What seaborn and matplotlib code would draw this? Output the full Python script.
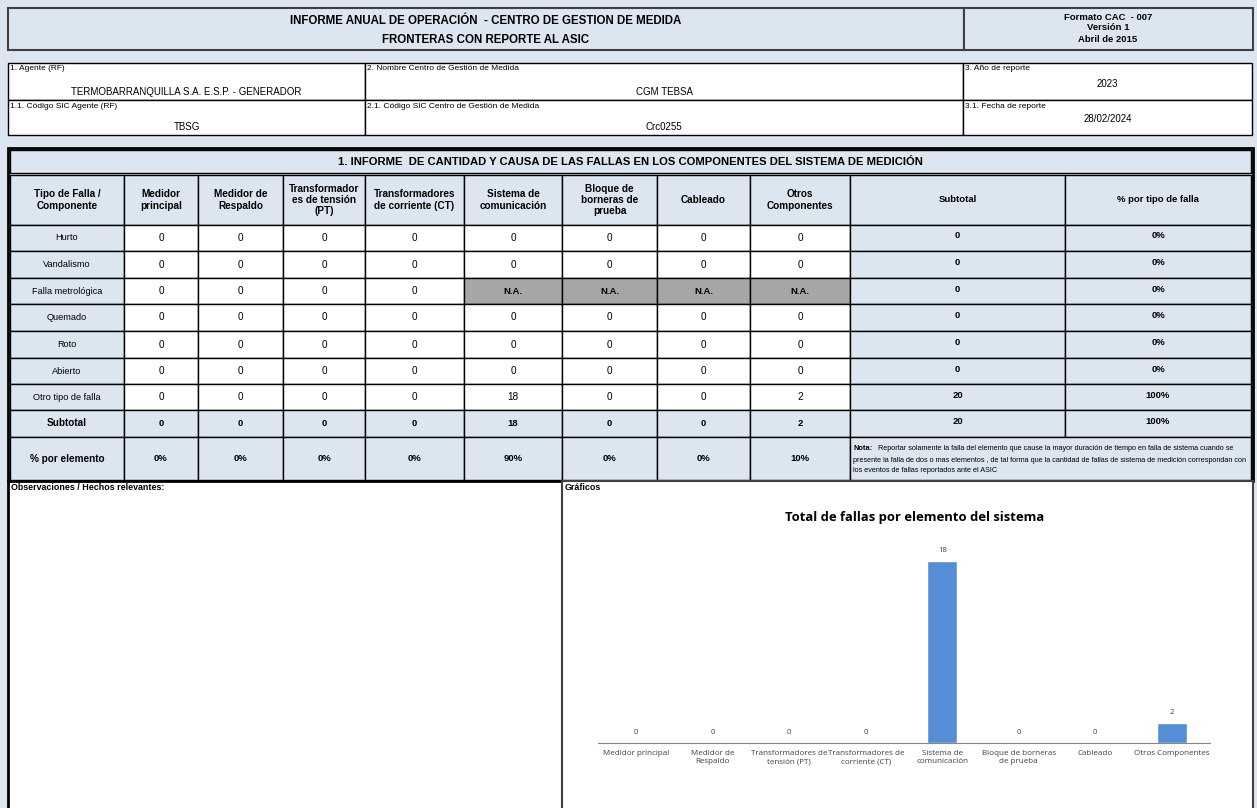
import matplotlib
matplotlib.use('Agg')
import matplotlib.pyplot as plt
import matplotlib.patches as mpatches
import seaborn as sns
import pandas as pd
import warnings

warnings.filterwarnings('ignore')

# DATA
componentes = ['Medidor\nprincipal', 'Medidor de\nRespaldo', 'Transformador\nes de tensión\n(PT)',
               'Transformadores\nde corriente (CT)', 'Sistema de\ncomunicación', 'Bloque de\nborneras de\nprueba',
               'Cableado', 'Otros\nComponentes']
chart_labels = ['Medidor principal', 'Medidor de\nRespaldo', 'Transformadores de\ntensión (PT)',
                'Transformadores de\ncorriente (CT)', 'Sistema de\ncomunicación', 'Bloque de borneras\nde prueba',
                'Cableado', 'Otros Componentes']
tipos_falla = ['Hurto', 'Vandalismo', 'Falla metrológica', 'Quemado', 'Roto', 'Abierto', 'Otro tipo de falla']
conteos = [[0, 0, 0, 0, 0, 0, 0, 0],
           [0, 0, 0, 0, 0, 0, 0, 0],
           [0, 0, 0, 0, None, None, None, None],
           [0, 0, 0, 0, 0, 0, 0, 0],
           [0, 0, 0, 0, 0, 0, 0, 0],
           [0, 0, 0, 0, 0, 0, 0, 0],
           [0, 0, 0, 0, 18, 0, 0, 2]]
subtotal_tipo = [0, 0, 0, 0, 0, 0, 20]
pct_tipo = ['0%', '0%', '0%', '0%', '0%', '0%', '100%']
subtotal_elem = [0, 0, 0, 0, 18, 0, 0, 2]
pct_elem = ['0%', '0%', '0%', '0%', '90%', '0%', '0%', '10%']
total = 20
total_fallas = [0, 0, 0, 0, 18, 0, 0, 2]

BLUE = '#dce6f1'
GRAY = '#a6a6a6'
NARROW = ['Liberation Sans Narrow', 'Liberation Sans', 'DejaVu Sans']
OPEN = ['Open Sans', 'DejaVu Sans']

sns.set_style('white')
plt.rcParams['font.family'] = NARROW

fig = plt.figure(figsize=(12.57, 8.08), dpi=100, facecolor=BLUE)
bg = fig.add_axes([0, 0, 1, 1])
bg.set_xlim(0, 1257)
bg.set_ylim(808, 0)
bg.axis('off')


def box(x0, x1, y0, y1, fill='white', lw=1.0, ec='black'):
    bg.add_patch(mpatches.Rectangle((x0, y0), x1 - x0, y1 - y0, facecolor=fill, edgecolor=ec, lw=lw))


def txt(x, y, s, size=7, bold=False, ha='center', va='center', ls=1.15, **kw):
    bg.text(x, y, s, fontsize=size, fontweight='bold' if bold else 'normal', ha=ha, va=va,
            color='black', linespacing=ls, **kw)


# HEADER
box(8, 964, 8, 50, BLUE, lw=1.5, ec='#404040')
box(964, 1253, 8, 50, BLUE, lw=1.5, ec='#404040')
txt(486, 21, 'INFORME ANUAL DE OPERACIÓN  - CENTRO DE GESTION DE MEDIDA', size=8.3, bold=True)
txt(486, 40, 'FRONTERAS CON REPORTE AL ASIC', size=8.3, bold=True)
txt(1108, 17, 'Formato CAC  - 007', size=6.8, bold=True)
txt(1108, 28, 'Versión 1', size=6.8, bold=True)
txt(1108, 39, 'Abril de 2015', size=6.8, bold=True)

# INFO
info = [(8, 365, 63, 100, '1. Agente (RF)', 'TERMOBARRANQUILLA S.A. E.S.P. - GENERADOR', 92),
        (365, 963, 63, 100, '2. Nombre Centro de Gestión de Medida', 'CGM TEBSA', 92),
        (963, 1252, 63, 100, '3. Año de reporte', '2023', 84),
        (8, 365, 100, 135, '1.1. Código SIC Agente (RF)', 'TBSG', 127),
        (365, 963, 100, 135, '2.1. Código SIC Centro de Gestión de Medida', 'Crc0255', 127),
        (963, 1252, 100, 135, '3.1. Fecha de reporte', '28/02/2024', 119)]
for x0, x1, y0, y1, lab, val, yv in info:
    box(x0, x1, y0, y1)
    txt(x0 + 2, y0 + 6, lab, size=6.0, ha='left')
    txt((x0 + x1) / 2, yv, val, size=7.0)

# MAIN TABLE
box(8, 1253, 148, 481, BLUE, lw=2)
box(10, 1251, 150, 173, BLUE, lw=1)
txt(630, 162, '1. INFORME  DE CANTIDAD Y CAUSA DE LAS FALLAS EN LOS COMPONENTES DEL SISTEMA DE MEDICIÓN',
    size=8.1, bold=True)

cols = [10, 124, 198, 283, 365, 464, 562, 657, 750, 850, 1065, 1251]
rows = [175, 225, 251, 278, 304, 331, 358, 384, 410, 437, 480]
cx = [(cols[i] + cols[i + 1]) / 2 for i in range(len(cols) - 1)]

# header row
headers = ['Tipo de Falla /\nComponente'] + componentes + ['Subtotal', '% por tipo de falla']
for i, h in enumerate(headers):
    box(cols[i], cols[i + 1], rows[0], rows[1], BLUE)
    txt(cx[i], (rows[0] + rows[1]) / 2, h, size=7.2 if i < 9 else 6.8, bold=True)

# fault rows
for r, tipo in enumerate(tipos_falla):
    y0, y1 = rows[r + 1], rows[r + 2]
    ym = (y0 + y1) / 2
    box(cols[0], cols[1], y0, y1, BLUE)
    txt(cx[0], ym, tipo, size=6.6)
    for c, v in enumerate(conteos[r]):
        if v is None:
            box(cols[c + 1], cols[c + 2], y0, y1, GRAY)
            txt(cx[c + 1], ym, 'N.A.', size=6.8, bold=True)
        else:
            box(cols[c + 1], cols[c + 2], y0, y1, 'white')
            txt(cx[c + 1], ym, str(v), size=7.2)
    box(cols[9], cols[10], y0, y1, BLUE)
    txt(cx[9], ym - 2, str(subtotal_tipo[r]), size=6.8, bold=True)
    box(cols[10], cols[11], y0, y1, BLUE)
    txt(cx[10], ym - 2, pct_tipo[r], size=6.8, bold=True)

# subtotal row
y0, y1 = rows[8], rows[9]
ym = (y0 + y1) / 2
box(cols[0], cols[1], y0, y1, BLUE)
txt(cx[0], ym, 'Subtotal', size=7.2, bold=True)
for c, v in enumerate(subtotal_elem):
    box(cols[c + 1], cols[c + 2], y0, y1, BLUE)
    txt(cx[c + 1], ym, str(v), size=6.8, bold=True)
box(cols[9], cols[10], y0, y1, BLUE)
txt(cx[9], ym - 2, str(total), size=6.8, bold=True)
box(cols[10], cols[11], y0, y1, BLUE)
txt(cx[10], ym - 2, '100%', size=6.8, bold=True)

# % por elemento row
y0, y1 = rows[9], rows[10]
ym = (y0 + y1) / 2
box(cols[0], cols[1], y0, y1, BLUE)
txt(cx[0], ym, '% por elemento', size=7.2, bold=True)
for c, v in enumerate(pct_elem):
    box(cols[c + 1], cols[c + 2], y0, y1, BLUE)
    txt(cx[c + 1], ym, v, size=6.8, bold=True)
box(cols[9], cols[11], y0, y1, BLUE)
nota_lines = ['Reportar solamente la falla del elemento que cause la mayor duración de tiempo en falla de sistema cuando se',
              'presente la falla de dos o mas elementos , de tal forma que la cantidad de fallas de sistema de medición correspondan con',
              'los eventos de fallas reportados ante el ASIC']
txt(853, 448, 'Nota:', size=5.4, bold=True, ha='left')
txt(878, 448, nota_lines[0], size=5.25, ha='left')
txt(853, 460, nota_lines[1], size=5.25, ha='left')
txt(853, 471, nota_lines[2], size=5.25, ha='left')

# BOTTOM
box(8, 562, 481, 812, 'white', lw=2)
box(562, 1253, 481, 812, 'white', lw=1.5, ec='#404040')
txt(11, 487, 'Observaciones / Hechos relevantes:', size=6.4, bold=True, ha='left')
txt(565, 487, 'Gráficos', size=6.4, bold=True, ha='left')
txt(915, 518, 'Total de fallas por elemento del sistema', size=9.4, bold=True, family=OPEN)

# CHART
df = pd.DataFrame({'elemento': chart_labels, 'fallas': total_fallas})
ax = fig.add_axes([598 / 1257, 1 - 743 / 808, 612 / 1257, 202 / 808])
ax.patch.set_alpha(0)
sns.barplot(data=df, x='elemento', y='fallas', color='#558ed5', width=0.39, saturation=1, ax=ax)
for cont in ax.containers:
    ax.bar_label(cont, fontsize=5.6, padding=5, color='#404040', family=OPEN)
ax.set_xlim(-0.5, 7.5)
ax.set_ylim(0, 20)
ax.set_xlabel('')
ax.set_ylabel('')
ax.set_yticks([])
for s in ['left', 'top', 'right']:
    ax.spines[s].set_visible(False)
ax.spines['bottom'].set_color('#868686')
ax.spines['bottom'].set_linewidth(0.8)
ax.set_xticks(range(len(chart_labels)))
ax.set_xticklabels(chart_labels, fontsize=5.8, color='#404040', linespacing=1.3, family=OPEN)
ax.set_xticks([i - 0.5 for i in range(len(chart_labels) + 1)], minor=True)
ax.tick_params(axis='x', which='major', length=0, pad=5)
ax.tick_params(axis='x', which='minor', length=3, color='#868686', width=0.8, direction='out')

plt.savefig('out.png', dpi=100, facecolor=BLUE)
